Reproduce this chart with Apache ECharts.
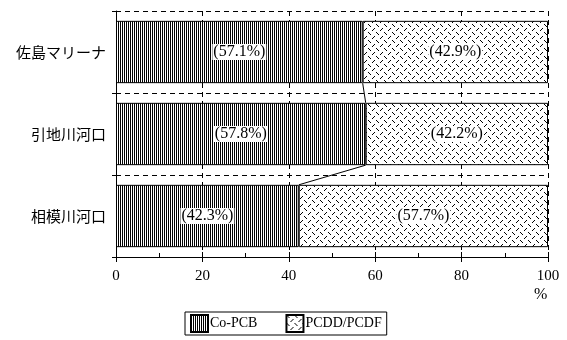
<!DOCTYPE html>
<html><head><meta charset="utf-8">
<script src="https://cdn.jsdelivr.net/npm/echarts@6/dist/echarts.min.js"></script>
<style>html,body{margin:0;padding:0;background:#fff}#c{width:567px;height:340px}</style>
</head><body><div id="c"></div>
<script>
const categories = ['佐島マリーナ', '引地川河口', '相模川河口'];
const coPcb = [57.1, 57.8, 42.3];
const pcdd = [42.9, 42.2, 57.7];
const seriesNames = ['Co-PCB', 'PCDD/PCDF'];
const xTicks = [0, 20, 40, 60, 80, 100];

function makeStripe() {
  const c = document.createElement('canvas'); c.width = 2; c.height = 2;
  const g = c.getContext('2d');
  g.fillStyle = '#fff'; g.fillRect(0, 0, 2, 2);
  g.fillStyle = '#000'; g.fillRect(0, 0, 1, 2);
  return c;
}
function makeCross() {
  const c = document.createElement('canvas'); c.width = 8; c.height = 8;
  const g = c.getContext('2d');
  g.fillStyle = '#fff'; g.fillRect(0, 0, 8, 8);
  g.fillStyle = '#000';
  [[0,0],[1,1],[2,2],[6,4],[5,5],[4,6]].forEach(p => g.fillRect(p[0], p[1], 1, 1));
  return c;
}
const stripe = { image: makeStripe(), repeat: 'repeat' };
const cross = { image: makeCross(), repeat: 'repeat' };

const BAR_RATIO = 0.76;
const labelStyle = {
  show: true, position: 'inside', color: '#000', fontSize: 16,
  fontFamily: 'Liberation Serif', backgroundColor: '#fff', padding: [0, 1],
  formatter: p => '(' + p.value.toFixed(1) + '%)'
};
const connectorData = [];
for (let i = 0; i < coPcb.length - 1; i++) connectorData.push([coPcb[i], i, coPcb[i + 1], i + 1]);

const chart = echarts.init(document.getElementById('c'), null, { renderer: 'canvas' });
chart.setOption({
  animation: false,
  backgroundColor: '#fff',
  grid: { left: 116, right: 19, top: 11, bottom: 83 },
  xAxis: [{
    type: 'value', min: 0, max: 100, interval: 20,
    axisLine: { show: true, lineStyle: { color: '#000', width: 1 } },
    axisTick: { show: true, inside: true, length: 5, lineStyle: { color: '#000' } },
    minorTick: { show: true, splitNumber: 2, length: 4, lineStyle: { color: '#000' } },
    axisLabel: { color: '#000', fontSize: 15, fontFamily: 'Liberation Serif', margin: 12,
      formatter: v => xTicks.indexOf(v) >= 0 ? String(v) : '' },
    splitLine: { show: true, lineStyle: { color: '#000', type: [5, 4], width: 1 } }
  }, {
    type: 'value', min: 0, max: 100, interval: 20, position: 'bottom', gridIndex: 0,
    axisLine: { show: false }, axisLabel: { show: false }, splitLine: { show: false },
    axisTick: { show: true, inside: false, length: 5, lineStyle: { color: '#000' } }
  }],
  yAxis: {
    type: 'category', data: categories, inverse: true,
    axisLine: { show: true, lineStyle: { color: '#000', width: 1 } },
    axisTick: { show: true, length: 4, lineStyle: { color: '#000' } },
    axisLabel: { color: '#000', fontSize: 15, fontFamily: 'Noto Sans CJK JP', margin: 10 },
    splitLine: { show: true, lineStyle: { color: '#000', type: [5, 4], width: 1 } }
  },
  legend: {
    left: 185, top: 312, orient: 'horizontal',
    itemWidth: 17, itemHeight: 17, itemGap: 28,
    padding: [2, 5, 2, 5],
    borderColor: '#000', borderWidth: 1, backgroundColor: '#fff',
    textStyle: { color: '#000', fontSize: 14, fontFamily: 'Liberation Serif', padding: [0, 0, 0, -3] },
    data: [{ name: seriesNames[0], icon: 'rect' }, { name: seriesNames[1], icon: 'rect' }]
  },
  graphic: [{ type: 'text', left: 534, top: 287, style: { text: '%', fontSize: 16, fontFamily: 'Liberation Serif', fill: '#000' } }],
  series: [{
    name: seriesNames[0], type: 'bar', stack: 'total', barWidth: (BAR_RATIO * 100) + '%',
    data: coPcb,
    itemStyle: { color: stripe, borderColor: '#000', borderWidth: 1 },
    label: labelStyle
  }, {
    name: seriesNames[1], type: 'bar', stack: 'total',
    data: pcdd,
    itemStyle: { color: cross, borderColor: '#000', borderWidth: 1 },
    label: labelStyle
  }, {
    type: 'custom', coordinateSystem: 'cartesian2d', silent: true,
    encode: { x: [0, 2], y: [1, 3] },
    data: connectorData,
    renderItem: function (params, api) {
      const a = api.coord([api.value(0), api.value(1)]);
      const b = api.coord([api.value(2), api.value(3)]);
      const h = api.size([0, 1])[1] * BAR_RATIO / 2;
      return {
        type: 'line', z2: 10,
        shape: { x1: a[0], y1: a[1] + h, x2: b[0], y2: b[1] - h },
        style: { stroke: '#000', lineWidth: 1 }
      };
    }
  }]
});
</script></body></html>
